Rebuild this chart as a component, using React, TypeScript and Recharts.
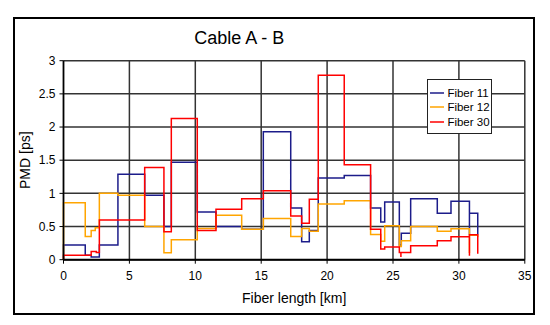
import React from 'react';
import { LineChart, Line, XAxis, YAxis, CartesianGrid, Legend, Label } from 'recharts';

const FONT = '"Liberation Sans", Arial, sans-serif';

// step positions (km) and PMD levels (ps)
const fiber11Km = [0, 0, 1.65, 2.1, 2.72, 4.13, 6.16, 7.62, 8.18, 10.15, 11.57, 13.52, 15.16, 17.24, 18.07, 18.65, 19.33, 21.3, 23.3, 24.07, 24.37, 25.48, 25.63, 26.34, 28.36, 29.4, 30.8, 30.8, 31.43];
const fiber11Pmd = [0, 0.22, 0.066, 0.04, 0.22, 1.29, 0.97, 0.5, 1.47, 0.72, 0.5, 0.46, 1.93, 0.78, 0.27, 0.44, 1.23, 1.27, 0.78, 0.57, 0.87, 0.22, 0.4, 0.92, 0.7, 0.88, 0.38, 0.7, 0.38];

const fiber12Km = [0, 0, 1.65, 2.1, 2.41, 2.72, 4.13, 6.16, 7.62, 8.18, 10.15, 11.57, 13.52, 15.16, 17.24, 18.07, 18.65, 19.33, 21.3, 23.3, 24.07, 24.37, 25.48, 25.63, 26.34, 28.36, 29.4, 30.8, 30.8, 31.43];
const fiber12Pmd = [0, 0.86, 0.35, 0.44, 0.48, 1.0, 0.97, 0.5, 0.105, 0.3, 0.47, 0.67, 0.46, 0.62, 0.35, 0.47, 0.43, 0.84, 0.89, 0.38, 0.28, 0.51, 0.2, 0.285, 0.5, 0.43, 0.465, 0.1, 0.37, 0.34];

const fiber30Km = [0, 0, 2.1, 2.49, 2.72, 6.16, 7.62, 8.18, 10.15, 11.57, 13.52, 15.16, 17.24, 18.07, 18.65, 19.33, 21.3, 23.3, 24.07, 24.37, 25.48, 25.6, 25.6, 26.34, 28.36, 29.4, 30.8, 30.8, 31.43];
const fiber30Pmd = [0, 0.066, 0.125, 0.11, 0.6, 1.39, 0.42, 2.13, 0.44, 0.76, 0.92, 1.04, 0.66, 0.55, 0.91, 2.78, 1.43, 0.46, 0.16, 0.19, 0.11, 0.04, 0.11, 0.21, 0.285, 0.345, 0.06, 0.375, 0.09];

const xTicks = [0, 5, 10, 15, 20, 25, 30, 35];
const yTicks = [0, 0.5, 1, 1.5, 2, 2.5, 3];

const toSteps = (km: number[], pmd: number[]) => km.map((k, i) => ({ km: k, pmd: pmd[i] }));

const series = [
  { name: 'Fiber 11', color: '#1c1c8a', data: toSteps(fiber11Km, fiber11Pmd) },
  { name: 'Fiber 12', color: '#FFA500', data: toSteps(fiber12Km, fiber12Pmd) },
  { name: 'Fiber 30', color: '#FF0000', data: toSteps(fiber30Km, fiber30Pmd) },
];

const LegendBox = () => (
  <div
    style={{
      border: '1.5px solid #222',
      background: '#fff',
      boxSizing: 'border-box',
      width: 65,
      height: 55,
      padding: '5px 2px 0 2px',
      fontFamily: FONT,
      fontSize: 11.5,
      color: '#000',
    }}
  >
    {series.map(s => (
      <div key={s.name} style={{ display: 'flex', alignItems: 'center', height: 14.7, whiteSpace: 'nowrap' }}>
        <svg width={15} height={4} style={{ flex: 'none' }}>
          <line x1={0} x2={14} y1={2} y2={2} stroke={s.color} strokeWidth={1.5} />
        </svg>
        <span style={{ marginLeft: 2 }}>{s.name}</span>
      </div>
    ))}
  </div>
);

export default function App() {
  return (
    <div style={{ position: 'absolute', left: 0, top: 0, width: 550, height: 325, background: '#fff' }}>
      <div
        style={{
          position: 'absolute',
          left: 13,
          top: 16.7,
          width: 522.4,
          height: 298,
          border: '2px solid #000',
          boxSizing: 'border-box',
        }}
      />
      <div
        style={{
          position: 'absolute',
          left: 0,
          top: 29.1,
          width: 478.6,
          textAlign: 'center',
          fontFamily: FONT,
          fontSize: 18,
          lineHeight: 1,
          color: '#000',
        }}
      >
        Cable A - B
      </div>
      <div style={{ position: 'absolute', left: 0, top: 0 }}>
        <LineChart
          width={550}
          height={325}
          margin={{ top: 60.7, right: 25.2, bottom: 22, left: 0 }}
          style={{ fontFamily: FONT }}
        >
          <CartesianGrid stroke="#333" strokeWidth={1.5} />
          <XAxis
            dataKey="km"
            type="number"
            domain={[0, 35]}
            ticks={xTicks}
            height={43.3}
            tickSize={4}
            tickMargin={8}
            axisLine={{ stroke: '#000', strokeWidth: 2 }}
            tickLine={{ stroke: '#000' }}
            tick={{ fill: '#000', fontSize: 12, fontFamily: FONT }}
          >
            <Label value="Fiber length [km]" position="insideBottom" offset={0} style={{ fontSize: 14, fill: '#000', fontFamily: FONT }} />
          </XAxis>
          <YAxis
            dataKey="pmd"
            type="number"
            domain={[0, 3]}
            ticks={yTicks}
            width={63.5}
            tickSize={4}
            tickMargin={4}
            axisLine={{ stroke: '#000', strokeWidth: 1.5 }}
            tickLine={{ stroke: '#000' }}
            tick={{ fill: '#000', fontSize: 12, fontFamily: FONT }}
          >
            <Label
              value="PMD [ps]"
              angle={-90}
              position="insideLeft"
              offset={24.6}
              style={{ fontSize: 14, fill: '#000', fontFamily: FONT, textAnchor: 'middle' }}
            />
          </YAxis>
          <Legend
            layout="vertical"
            align="center"
            verticalAlign="middle"
            width={65}
            height={55}
            wrapperStyle={{ left: 427.4, top: 79.3, width: 65, height: 55 }}
            content={() => <LegendBox />}
          />
          {series.map(s => (
            <Line
              key={s.name}
              name={s.name}
              data={s.data}
              dataKey="pmd"
              type="stepAfter"
              stroke={s.color}
              strokeWidth={1.5}
              dot={false}
              activeDot={false}
              isAnimationActive={false}
            />
          ))}
        </LineChart>
      </div>
    </div>
  );
}
